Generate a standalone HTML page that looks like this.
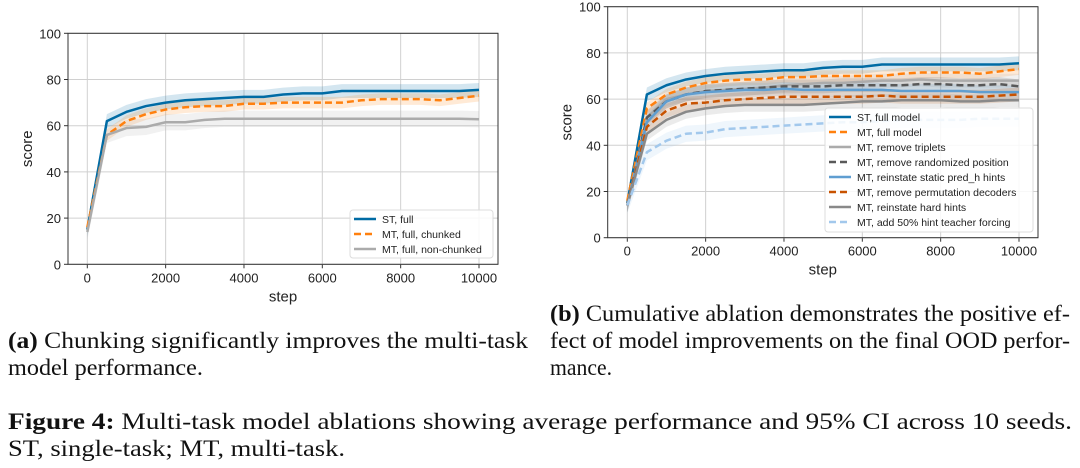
<!DOCTYPE html>
<html><head><meta charset="utf-8"><style>
html,body{margin:0;padding:0;background:#fff;width:1080px;height:468px;overflow:hidden}
svg text{font-family:"Liberation Sans","DejaVu Sans",sans-serif}
svg text.cap{font-family:"Liberation Serif","Times New Roman",serif;font-size:23px;fill:#111}
</style></head><body>
<svg id="fig" width="1080" height="468" viewBox="0 0 1080 468" xmlns="http://www.w3.org/2000/svg">
<g id="chartA"></g>
<g id="chartB"></g>
<g>
<text class="cap" x="8" y="348" textLength="520" lengthAdjust="spacingAndGlyphs"><tspan font-weight="bold">(a)</tspan> Chunking significantly improves the multi-task</text>
<text class="cap" x="8" y="375" textLength="195" lengthAdjust="spacingAndGlyphs">model performance.</text>
<text class="cap" x="550" y="321" textLength="520" lengthAdjust="spacingAndGlyphs"><tspan font-weight="bold">(b)</tspan> Cumulative ablation demonstrates the positive ef-</text>
<text class="cap" x="550" y="348" textLength="520" lengthAdjust="spacingAndGlyphs">fect of model improvements on the final OOD perfor-</text>
<text class="cap" x="550" y="375" textLength="62" lengthAdjust="spacingAndGlyphs">mance.</text>
<text class="cap" x="8" y="429" textLength="1064" lengthAdjust="spacingAndGlyphs"><tspan font-weight="bold">Figure 4:</tspan> Multi-task model ablations showing average performance and 95% CI across 10 seeds.</text>
<text class="cap" x="8" y="456" textLength="337" lengthAdjust="spacingAndGlyphs">ST, single-task; MT, multi-task.</text>
</g>
</svg>
<script>
const steps=[0,500,1000,1500,2000,2500,3000,3500,4000,4500,5000,5500,6000,6500,7000,7500,8000,8500,9000,9500,10000];
const xTicks=[0,2000,4000,6000,8000,10000];
const yTicks=[0,20,40,60,80,100];
const stFull=[15,62,66,68.5,70,71,71.5,72,72.5,72.5,73.5,74,74,75,75,75,75,75,75,75,75.5];
const mtFull=[16,56,62,65,67,68,68.5,68.5,69.5,69.5,70,70,70,70,71,71.5,71.5,71.5,71,72,73];
const mtNonChunked=[14,56,59,59.5,61.5,61.5,62.5,63,63,63,63,63,63,63,63,63,63,63,63,63,62.8];
const mtNoTriplets=[14,52,60,62,63.5,64,64.5,65,66,66.5,67,67,67.5,68,68,68.5,68,68,68,68,68];
const mtNoRandPos=[14,52,59,62,63.5,64,64.5,65,65.5,65.5,65.5,66,66,66,66,66.5,66.5,66,66,66.5,65.5];
const mtPredH=[14,50,59,62,63,63.5,64,64,64.5,64,64,64,64,64,63.5,63.5,63.5,63.5,63,63,63];
const mtNoPerm=[14,48,55,58,58.5,59.5,60,60.5,61,61,61,61,61,61.5,61,61,61,61,61,61.5,62];
const mtHardHints=[14,45,51,54.5,56,57,57.5,57.5,57.5,57.5,58,58.5,59,59,59.5,59.5,59.5,59,59,59.5,59.5];
const mtTeacher=[14,37,42,45,45.5,47,47.5,48,48.5,49,49.5,50,50,50.5,51,51,51,51,51.5,51.5,51.5];
const ciA=[3,2.5,3.5];
const ciB=[3,2.5,3,3,3,3,3,3.5];
const labelsA=["ST, full","MT, full, chunked","MT, full, non-chunked"];
const labelsB=["ST, full model","MT, full model","MT, remove triplets","MT, remove randomized position","MT, reinstate static pred_h hints","MT, remove permutation decoders","MT, reinstate hard hints","MT, add 50% hint teacher forcing"];
const NS="http://www.w3.org/2000/svg";
function mk(p,t,a){const e=document.createElementNS(NS,t);for(const k in a)e.setAttribute(k,a[k]);p.appendChild(e);return e;}
function chart(g,L,R,T,B,x0px,x1px,series,legend){
  const sx=v=>x0px+(x1px-x0px)*v/10000, sy=v=>B-(B-T)*v/100;
  mk(g,'rect',{x:L,y:T,width:R-L,height:B-T,fill:'#fff'});
  xTicks.forEach(v=>{const l=mk(g,'line',{x1:sx(v),x2:sx(v),y1:T,y2:B,stroke:'#d0d0d0','stroke-width':1});
    
    mk(g,'line',{x1:sx(v),x2:sx(v),y1:B,y2:B+4,stroke:'#333'});
    const t=mk(g,'text',{x:sx(v),y:B+18,'text-anchor':'middle','font-size':13,fill:'#222'});t.textContent=v;
    });
  yTicks.forEach(v=>{const l=mk(g,'line',{x1:L,x2:R,y1:sy(v),y2:sy(v),stroke:'#d0d0d0','stroke-width':1});
    
    mk(g,'line',{x1:L-4,x2:L,y1:sy(v),y2:sy(v),stroke:'#333'});
    const t=mk(g,'text',{x:L-7,y:sy(v)+5,'text-anchor':'end','font-size':13,fill:'#222'});t.textContent=v;
    });
  series.forEach(s=>{
    let d='M'+steps.map((x,i)=>sx(x)+','+sy(s.v[i]+s.ci)).join('L')+'L'+steps.slice().reverse().map((x,j)=>{const i=steps.length-1-j;return sx(x)+','+sy(s.v[i]-s.ci)}).join('L')+'Z';
    const b=mk(g,'path',{d:d,fill:s.c,'fill-opacity':0.17,stroke:'none'});
    });
  series.forEach(s=>{
    const p=mk(g,'polyline',{points:steps.map((x,i)=>sx(x)+','+sy(s.v[i])).join(' '),fill:'none',stroke:s.c,'stroke-width':2.5,'stroke-dasharray':s.dash||'none','stroke-linejoin':'round'});
    });
  mk(g,'rect',{x:L,y:T,width:R-L,height:B-T,fill:'none',stroke:'#333','stroke-width':1});
  const xl=mk(g,'text',{x:(L+R)/2,y:B+37,'text-anchor':'middle','font-size':15,fill:'#222'});xl.textContent='step';
  
  const cy=(T+B)/2, yl=mk(g,'text',{x:0,y:0,transform:`translate(${L-36},${cy}) rotate(-90)`,'text-anchor':'middle','font-size':15,fill:'#222'});yl.textContent='score';
  
  const lg=mk(g,'g',{});
  mk(lg,'rect',{x:legend.x,y:legend.y,width:legend.w,height:legend.h,rx:3,fill:'#fff','fill-opacity':0.85,stroke:'#ddd'});
  series.forEach((s,i)=>{const yy=legend.y+9+i*15;
    mk(lg,'line',{x1:legend.x+4,x2:legend.x+26,y1:yy,y2:yy,stroke:s.c,'stroke-width':2.5,'stroke-dasharray':s.dash||'none'});
    const t=mk(lg,'text',{x:legend.x+32,y:yy+4,'font-size':10.5,fill:'#222'});t.textContent=s.label;
    });
}
const C={st:'#006BA4',or:'#FF800E',lg:'#ABABAB',dg:'#595959',bl:'#5F9ED1',do:'#C85200',gr:'#898989',lb:'#A2C8EC'};
chart(document.getElementById('chartA'),68,498,33.3,264.3,87.3,479,[
 {v:stFull,c:C.st,ci:ciA[0],label:labelsA[0]},
 {v:mtFull,c:C.or,ci:ciA[1],dash:'7,4',label:labelsA[1]},
 {v:mtNonChunked,c:C.lg,ci:ciA[2],label:labelsA[2]}],{x:350,y:210,w:143,h:48});
chart(document.getElementById('chartB'),607.7,1038,6.7,237.7,627.3,1019,[
 {v:stFull,c:C.st,ci:ciB[0],label:labelsB[0]},
 {v:mtFull,c:C.or,ci:ciB[1],dash:'7,4',label:labelsB[1]},
 {v:mtNoTriplets,c:C.lg,ci:ciB[2],label:labelsB[2]},
 {v:mtNoRandPos,c:C.dg,ci:ciB[3],dash:'7,4',label:labelsB[3]},
 {v:mtPredH,c:C.bl,ci:ciB[4],label:labelsB[4]},
 {v:mtNoPerm,c:C.do,ci:ciB[5],dash:'7,4',label:labelsB[5]},
 {v:mtHardHints,c:C.gr,ci:ciB[6],label:labelsB[6]},
 {v:mtTeacher,c:C.lb,ci:ciB[7],dash:'7,4',label:labelsB[7]}],{x:825,y:108,w:208,h:124});
</script>
</body></html>
